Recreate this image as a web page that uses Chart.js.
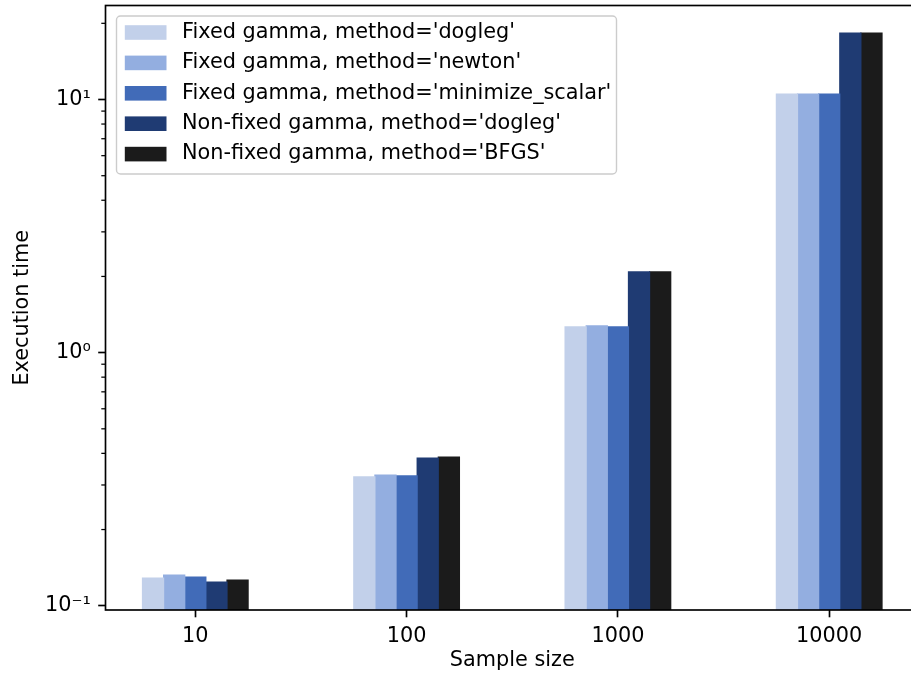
<!DOCTYPE html>
<html>
<head>
<meta charset="utf-8">
<script src="https://cdn.jsdelivr.net/npm/chart.js@4.4.1/dist/chart.umd.min.js"></script>
<style>
  html, body { margin: 0; padding: 0; background: #ffffff; overflow: hidden; }
  #wrap { width: 930px; height: 675px; }
</style>
</head>
<body>
<div id="wrap"><canvas id="c" width="930" height="675"></canvas></div>
<script>
// ---- data ----
const categories = ['10', '100', '1000', '10000'];
const seriesNames = [
  "Fixed gamma, method='dogleg'",
  "Fixed gamma, method='newton'",
  "Fixed gamma, method='minimize_scalar'",
  "Non-fixed gamma, method='dogleg'",
  "Non-fixed gamma, method='BFGS'"
];
const fixedDogleg   = [0.1287, 0.3227, 1.264, 10.5];
const fixedNewton   = [0.1322, 0.3285, 1.275, 10.5];
const fixedMinScal  = [0.1299, 0.3256, 1.264, 10.5];
const nonFixedDogleg = [0.124, 0.3835, 2.084, 18.3];
const nonFixedBFGS  = [0.1263, 0.387, 2.084, 18.3];
const yMajorTicks = [0.1, 1, 10];
const yMajorLabels = ['10\u207B\u00B9', '10\u2070', '10\u00B9'];
const yMinorTicks = [0.2, 0.3, 0.4, 0.5, 0.6, 0.7, 0.8, 0.9, 2, 3, 4, 5, 6, 7, 8, 9, 20];

// ---- styles ----
const colors = ['#c2d0ea', '#93aee0', '#416bb8', '#1f3b73', '#1b1b1b'];
const FONT = "'DejaVu Sans', sans-serif";
const FS = 20.8;
const allSeries = [fixedDogleg, fixedNewton, fixedMinScal, nonFixedDogleg, nonFixedBFGS];

const datasets = allSeries.map((vals, i) => ({
  label: seriesNames[i],
  data: vals.map((v, j) => ({ x: j, y: v })),
  backgroundColor: colors[i],
  borderWidth: 0,
  inflateAmount: 0.6,
  categoryPercentage: 0.5,
  barPercentage: 1.0
}));

const framePlugin = {
  id: 'frame',
  afterDraw(chart) {
    const { ctx, chartArea: a } = chart;
    const y = chart.scales.y;
    ctx.save();
    // minor ticks
    ctx.strokeStyle = '#000';
    ctx.lineWidth = 1.25;
    yMinorTicks.forEach(v => {
      const py = y.getPixelForValue(v);
      if (py < a.top || py > a.bottom) return;
      ctx.beginPath();
      ctx.moveTo(a.left, py);
      ctx.lineTo(a.left - 4.2, py);
      ctx.stroke();
    });
    // spines
    ctx.lineWidth = 1.67;
    ctx.strokeRect(a.left, a.top, a.right - a.left, a.bottom - a.top);
    // legend
    const lx = 116.5, ly = 16, lw = 500, lh = 158, r = 4;
    ctx.beginPath();
    ctx.moveTo(lx + r, ly);
    ctx.arcTo(lx + lw, ly, lx + lw, ly + lh, r);
    ctx.arcTo(lx + lw, ly + lh, lx, ly + lh, r);
    ctx.arcTo(lx, ly + lh, lx, ly, r);
    ctx.arcTo(lx, ly, lx + lw, ly, r);
    ctx.closePath();
    ctx.fillStyle = 'rgba(255,255,255,0.8)';
    ctx.fill();
    ctx.strokeStyle = '#cccccc';
    ctx.lineWidth = 1.4;
    ctx.stroke();
    ctx.font = FS + 'px ' + FONT;
    ctx.textBaseline = 'middle';
    ctx.textAlign = 'left';
    chart.data.datasets.forEach((ds, i) => {
      const cy = 32.5 + 30.4 * i;
      ctx.fillStyle = ds.backgroundColor;
      ctx.fillRect(124.8, cy - 7.3, 41.7, 14.6);
      ctx.fillStyle = '#000';
      ctx.fillText(ds.label, 182, cy);
    });
    ctx.restore();
  }
};

new Chart(document.getElementById('c'), {
  type: 'bar',
  data: { datasets },
  options: {
    responsive: false,
    animation: false,
    devicePixelRatio: 1,
    layout: { padding: { left: 0, right: 11, top: 5.5, bottom: 0 } },
    plugins: { legend: { display: false }, tooltip: { enabled: false } },
    scales: {
      x: {
        type: 'linear',
        offset: false,
        min: -0.425,
        max: 3.425,
        afterFit(s) { s.height = 65; s.paddingLeft = 0; s.paddingRight = 0; },
        grid: { offset: false, drawOnChartArea: false, drawTicks: true, tickLength: 7.3, tickWidth: 1.67, tickColor: '#000' },
        border: { display: false },
        ticks: {
          stepSize: 1,
          includeBounds: false,
          autoSkip: false,
          maxRotation: 0,
          padding: 7.3,
          color: '#000',
          font: { family: FONT, size: FS },
          callback: (v) => categories[v] !== undefined && Number.isInteger(v) ? categories[v] : ''
        },
        title: {
          display: true, text: 'Sample size', color: '#000',
          font: { family: FONT, size: FS }, padding: { top: 0, bottom: 1.8 }
        }
      },
      y: {
        type: 'logarithmic',
        min: 0.0962,
        max: 23.52,
        afterFit(s) { s.width = 105.5; s.paddingTop = 0; s.paddingBottom = 0; },
        afterBuildTicks(s) {
          s.ticks = yMajorTicks.map(v => ({ value: v, major: true }));
        },
        grid: { drawOnChartArea: false, drawTicks: true, tickLength: 7.3, tickWidth: 1.67, tickColor: '#000' },
        border: { display: false },
        ticks: {
          autoSkip: false,
          padding: 7.3,
          color: '#000',
          font: { family: FONT, size: FS },
          callback: (v) => {
            const k = yMajorTicks.indexOf(v);
            return k >= 0 ? yMajorLabels[k] : '';
          }
        },
        title: {
          display: true, text: 'Execution time', color: '#000',
          font: { family: FONT, size: FS }, padding: { top: 10.5, bottom: 0 }
        }
      }
    }
  },
  plugins: [framePlugin]
});
</script>
</body>
</html>
